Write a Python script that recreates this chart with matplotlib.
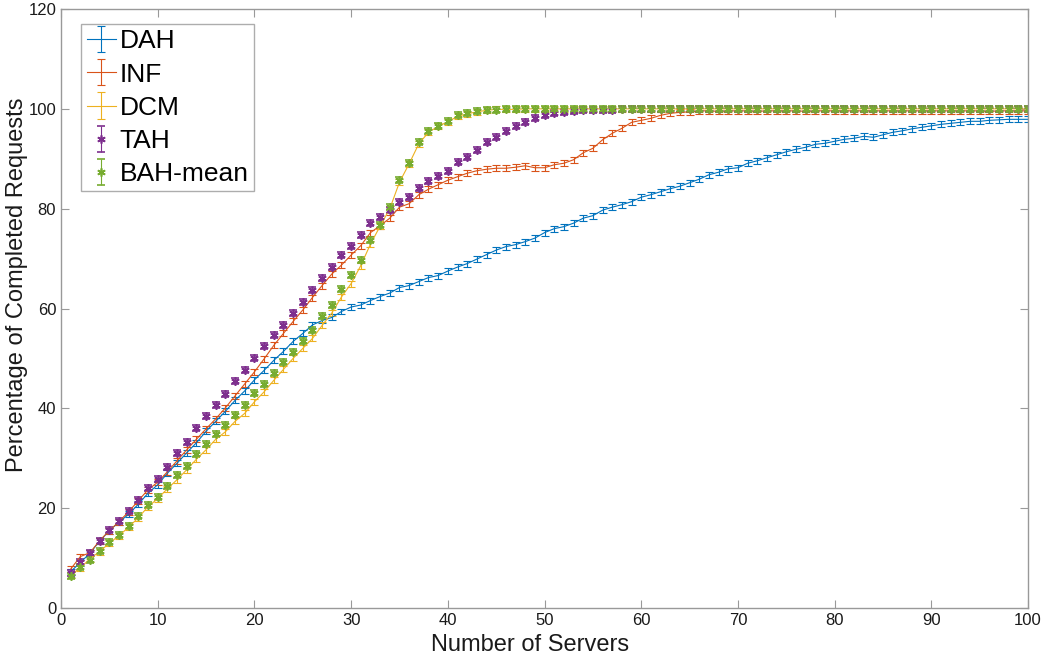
import matplotlib
matplotlib.use('Agg')
import matplotlib.pyplot as plt

plt.rcParams['font.family'] = ['Liberation Sans', 'DejaVu Sans']

servers = list(range(1, 101))

dah = [7.3, 9.1, 11.0, 13.4, 15.5, 17.2, 18.8, 20.8, 23.0, 24.7,
       27.0, 29.0, 31.1, 33.1, 35.4, 37.4, 39.4, 41.6, 43.5, 45.7,
       47.6, 49.6, 51.4, 53.4, 55.0, 56.7, 57.6, 58.2, 59.4, 60.3,
       60.7, 61.6, 62.4, 63.1, 64.2, 64.6, 65.4, 66.2, 66.6, 67.5,
       68.3, 69.0, 69.9, 70.8, 71.7, 72.4, 72.8, 73.4, 74.1, 75.2,
       76.0, 76.4, 77.1, 78.1, 78.6, 79.7, 80.3, 80.8, 81.4, 82.3,
       82.8, 83.4, 84.0, 84.5, 85.2, 85.9, 86.8, 87.3, 88.0, 88.2,
       89.1, 89.6, 90.2, 90.8, 91.4, 91.9, 92.3, 92.9, 93.1, 93.5,
       93.9, 94.1, 94.5, 94.3, 94.8, 95.3, 95.6, 96.0, 96.3, 96.6,
       96.9, 97.1, 97.3, 97.5, 97.5, 97.7, 97.8, 97.9, 97.9, 97.9]

inf = [7.8, 10.3, 11.1, 13.5, 15.5, 17.3, 19.3, 21.5, 23.7, 25.2,
       27.3, 29.5, 31.7, 33.8, 35.9, 37.9, 40.1, 42.5, 44.9, 47.3,
       49.9, 52.6, 55.0, 57.4, 59.7, 62.2, 64.6, 66.9, 68.7, 70.7,
       72.6, 75.2, 76.6, 78.1, 80.3, 81.0, 82.8, 83.9, 84.8, 85.7,
       86.4, 87.1, 87.6, 87.9, 88.1, 88.1, 88.3, 88.6, 88.2, 88.2,
       88.8, 89.1, 89.8, 91.2, 92.1, 93.8, 95.1, 96.1, 97.3, 97.7,
       98.1, 98.7, 99.1, 99.3, 99.4, 99.6, 99.6, 99.5, 99.6, 99.6,
       99.6, 99.5, 99.6, 99.6, 99.6, 99.6, 99.5, 99.6, 99.6, 99.6,
       99.6, 99.6, 99.6, 99.6, 99.6, 99.6, 99.6, 99.6, 99.6, 99.6,
       99.6, 99.6, 99.6, 99.6, 99.6, 99.5, 99.6, 99.6, 99.6, 99.6]

dcm = [6.6, 8.0, 9.9, 11.3, 13.0, 14.5, 16.2, 18.1, 20.3, 21.9,
       23.9, 25.7, 27.7, 29.8, 31.7, 33.8, 35.3, 37.4, 39.0, 41.3,
       43.3, 45.6, 47.8, 50.0, 52.0, 54.0, 56.6, 59.1, 62.3, 65.0,
       68.6, 72.9, 76.5, 80.0, 85.3, 89.0, 93.0, 95.3, 96.5, 97.4,
       98.5, 99.0, 99.4, 99.7, 99.9, 99.9, 99.9, 100.0, 100.0, 100.0,
       100.0, 100.0, 100.0, 100.0, 100.0, 100.0, 100.0, 100.0, 100.0, 100.0,
       100.0, 100.0, 100.0, 100.0, 100.0, 100.0, 100.0, 100.0, 100.0, 100.0,
       100.0, 100.0, 100.0, 100.0, 100.0, 100.0, 100.0, 100.0, 100.0, 100.0,
       100.0, 100.0, 100.0, 100.0, 100.0, 100.0, 100.0, 100.0, 100.0, 100.0,
       100.0, 100.0, 100.0, 100.0, 100.0, 100.0, 100.0, 100.0, 100.0, 100.0]

tah = [7.1, 9.2, 11.1, 13.5, 15.6, 17.4, 19.4, 21.6, 24.0, 25.9,
       28.3, 31.1, 33.3, 36.0, 38.5, 40.6, 42.9, 45.4, 47.7, 50.0,
       52.5, 54.6, 56.7, 59.0, 61.4, 63.8, 66.2, 68.4, 70.7, 72.5,
       74.8, 77.2, 78.3, 79.8, 81.4, 82.4, 84.1, 85.6, 86.6, 87.6,
       89.4, 90.3, 91.8, 93.4, 94.3, 95.5, 96.5, 97.3, 98.1, 98.8,
       99.2, 99.3, 99.5, 99.7, 99.7, 99.7, 99.8, 99.9, 100.0, 100.0,
       100.0, 100.0, 100.0, 100.0, 100.0, 100.0, 100.0, 100.0, 100.0, 100.0,
       100.0, 100.0, 100.0, 100.0, 100.0, 100.0, 100.0, 100.0, 100.0, 100.0,
       100.0, 100.0, 100.0, 100.0, 100.0, 100.0, 100.0, 100.0, 100.0, 100.0,
       100.0, 100.0, 100.0, 100.0, 100.0, 100.0, 100.0, 100.0, 100.0, 100.0]

bah_mean = [6.5, 8.2, 9.6, 11.4, 13.3, 14.6, 16.4, 18.5, 20.6, 22.3,
            24.4, 26.6, 28.5, 30.8, 32.8, 34.8, 36.6, 38.7, 40.6, 43.1,
            44.9, 47.0, 49.3, 51.3, 53.4, 55.7, 58.5, 60.7, 63.9, 66.7,
            69.8, 73.7, 76.7, 80.4, 85.8, 89.2, 93.4, 95.6, 96.6, 97.5,
            98.7, 99.1, 99.5, 99.8, 99.7, 100.0, 100.0, 100.0, 100.0, 100.0,
            100.0, 100.0, 100.0, 100.0, 100.0, 100.0, 100.0, 100.0, 100.0, 100.0,
            100.0, 100.0, 100.0, 100.0, 100.0, 100.0, 100.0, 100.0, 100.0, 100.0,
            100.0, 100.0, 100.0, 100.0, 100.0, 100.0, 100.0, 100.0, 100.0, 100.0,
            100.0, 100.0, 100.0, 100.0, 100.0, 100.0, 100.0, 100.0, 100.0, 100.0,
            100.0, 100.0, 100.0, 100.0, 100.0, 100.0, 100.0, 100.0, 100.0, 100.0]

err = 0.6  # half-height of the error bars

fig = plt.figure(figsize=(10.41, 6.58), dpi=100)
ax = fig.add_axes([0.0586, 0.076, 0.929, 0.9103])

asterisk = (6, 2, 0)  # matlab-style '*' marker
kw = dict(yerr=err, capsize=3, elinewidth=0.8, capthick=0.8)
ax.errorbar(servers, dah, color='#0072BD', lw=0.8, label='DAH', **kw)
ax.errorbar(servers, inf, color='#D95319', lw=0.8, label='INF', **kw)
ax.errorbar(servers, dcm, color='#EDB120', lw=0.8, label='DCM', **kw)
ax.errorbar(servers, tah, color='#7E2F8E', ls='none', marker=asterisk, ms=6,
            mew=1.2, label='TAH', **kw)
ax.errorbar(servers, bah_mean, color='#77AC30', ls='none', marker=asterisk,
            ms=6, mew=1.2, label='BAH-mean', **kw)

ax.set_xlim(0, 100)
ax.set_ylim(0, 120)
ax.set_xticks(range(0, 101, 10))
ax.set_yticks(range(0, 121, 20))
ax.tick_params(direction='in', length=6, width=0.8, color='#999999',
               top=True, right=True, labelsize=12, labelcolor='#1a1a1a')
for s in ax.spines.values():
    s.set_color('#999999')
    s.set_linewidth(1)

ax.set_xlabel('Number of Servers', fontsize=17, color='#1a1a1a')
ax.set_ylabel('Percentage of Completed Requests', fontsize=17, color='#1a1a1a')
ax.xaxis.set_label_coords(0.485, -0.043)
ax.yaxis.set_label_coords(-0.034, 0.54)

leg = ax.legend(loc='upper left', bbox_to_anchor=(0.021, 0.975), fontsize=19,
                frameon=True, fancybox=False, edgecolor='#999999',
                borderpad=0.2, handlelength=1.1, handletextpad=0.15,
                labelspacing=0.35, borderaxespad=0)
leg.get_frame().set_linewidth(1)

fig.savefig('out.png', dpi=100)
